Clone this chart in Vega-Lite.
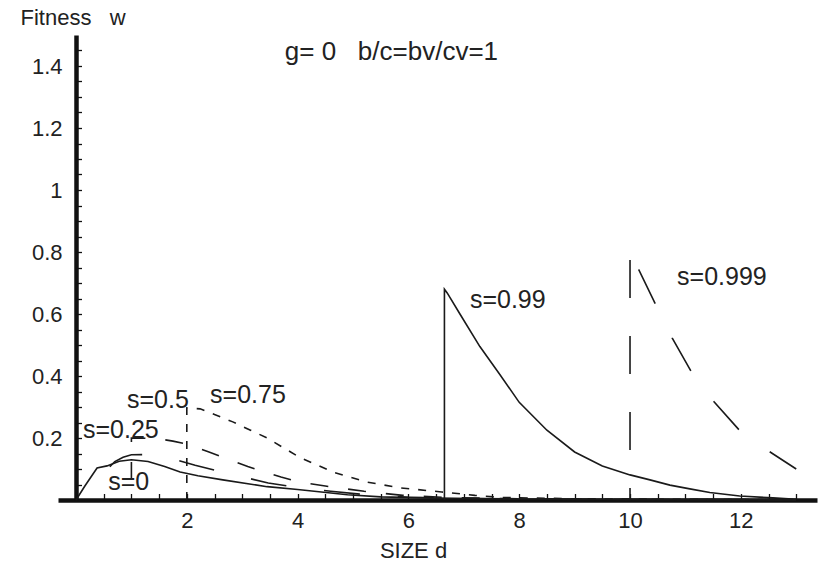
{
  "$schema": "https://vega.github.io/schema/vega-lite/v6.json",
  "width": 759,
  "height": 465,
  "autosize": {"type": "none"},
  "padding": {"left": 58, "top": 35, "right": 6, "bottom": 62},
  "background": "white",
  "config": {"view": {"stroke": null}, "font": "Liberation Sans"},
  "datasets": {
    "curves": [
      {"s": "0", "d": 0, "w": 0}, {"s": "0", "d": 0.16, "w": 0.045}, {"s": "0", "d": 0.38, "w": 0.103}, {"s": "0", "d": 0.56, "w": 0.11}, {"s": "0", "d": 0.78, "w": 0.125}, {"s": "0", "d": 1.0, "w": 0.13}, {"s": "0", "d": 1.3, "w": 0.124}, {"s": "0", "d": 1.6, "w": 0.108}, {"s": "0", "d": 1.88, "w": 0.09}, {"s": "0", "d": 2.2, "w": 0.078}, {"s": "0", "d": 2.65, "w": 0.065}, {"s": "0", "d": 3.45, "w": 0.043}, {"s": "0", "d": 4.0, "w": 0.034}, {"s": "0", "d": 4.9, "w": 0.017}, {"s": "0", "d": 5.5, "w": 0.01}, {"s": "0", "d": 6.5, "w": 0.006}, {"s": "0", "d": 8, "w": 0.003}, {"s": "0", "d": 10, "w": 0.002}, {"s": "0", "d": 13, "w": 0.001},
      {"s": "0.25", "d": 0.415, "w": 0}, {"s": "0.25", "d": 0.415, "w": 0.075}, {"s": "0.25", "d": 0.52, "w": 0.09}, {"s": "0.25", "d": 0.7, "w": 0.124}, {"s": "0.25", "d": 0.85, "w": 0.138}, {"s": "0.25", "d": 1.0, "w": 0.146}, {"s": "0.25", "d": 1.45, "w": 0.147}, {"s": "0.25", "d": 1.8, "w": 0.13}, {"s": "0.25", "d": 2.15, "w": 0.112}, {"s": "0.25", "d": 2.78, "w": 0.084}, {"s": "0.25", "d": 3.47, "w": 0.055}, {"s": "0.25", "d": 4.0, "w": 0.04}, {"s": "0.25", "d": 4.6, "w": 0.028}, {"s": "0.25", "d": 5.3, "w": 0.016}, {"s": "0.25", "d": 6.0, "w": 0.009}, {"s": "0.25", "d": 7.0, "w": 0.005}, {"s": "0.25", "d": 9.0, "w": 0.002}, {"s": "0.25", "d": 13.0, "w": 0.001},
      {"s": "0.5", "d": 1.0, "w": 0}, {"s": "0.5", "d": 1.0, "w": 0.2}, {"s": "0.5", "d": 1.3, "w": 0.199}, {"s": "0.5", "d": 1.5, "w": 0.197}, {"s": "0.5", "d": 1.75, "w": 0.19}, {"s": "0.5", "d": 2.0, "w": 0.18}, {"s": "0.5", "d": 2.4, "w": 0.155}, {"s": "0.5", "d": 2.7, "w": 0.135}, {"s": "0.5", "d": 3.1, "w": 0.108}, {"s": "0.5", "d": 3.4, "w": 0.09}, {"s": "0.5", "d": 3.7, "w": 0.074}, {"s": "0.5", "d": 4.04, "w": 0.058}, {"s": "0.5", "d": 4.5, "w": 0.045}, {"s": "0.5", "d": 5.2, "w": 0.028}, {"s": "0.5", "d": 5.9, "w": 0.015}, {"s": "0.5", "d": 6.6, "w": 0.009}, {"s": "0.5", "d": 7.5, "w": 0.005}, {"s": "0.5", "d": 9.0, "w": 0.002}, {"s": "0.5", "d": 13.0, "w": 0.001},
      {"s": "0.75", "d": 2.0, "w": 0}, {"s": "0.75", "d": 2.0, "w": 0.297}, {"s": "0.75", "d": 2.24, "w": 0.294}, {"s": "0.75", "d": 2.5, "w": 0.276}, {"s": "0.75", "d": 2.83, "w": 0.252}, {"s": "0.75", "d": 3.15, "w": 0.225}, {"s": "0.75", "d": 3.45, "w": 0.2}, {"s": "0.75", "d": 3.75, "w": 0.168}, {"s": "0.75", "d": 4.04, "w": 0.137}, {"s": "0.75", "d": 4.35, "w": 0.113}, {"s": "0.75", "d": 4.64, "w": 0.09}, {"s": "0.75", "d": 5.25, "w": 0.058}, {"s": "0.75", "d": 5.85, "w": 0.039}, {"s": "0.75", "d": 6.6, "w": 0.026}, {"s": "0.75", "d": 7.2, "w": 0.015}, {"s": "0.75", "d": 7.7, "w": 0.008}, {"s": "0.75", "d": 9.0, "w": 0.004}, {"s": "0.75", "d": 11.0, "w": 0.002}, {"s": "0.75", "d": 13.0, "w": 0.001},
      {"s": "0.99", "d": 6.65, "w": 0}, {"s": "0.99", "d": 6.65, "w": 0.68}, {"s": "0.99", "d": 6.7, "w": 0.668}, {"s": "0.99", "d": 6.93, "w": 0.6}, {"s": "0.99", "d": 7.29, "w": 0.495}, {"s": "0.99", "d": 7.65, "w": 0.405}, {"s": "0.99", "d": 8.0, "w": 0.315}, {"s": "0.99", "d": 8.5, "w": 0.225}, {"s": "0.99", "d": 9.0, "w": 0.155}, {"s": "0.99", "d": 9.5, "w": 0.11}, {"s": "0.99", "d": 10.0, "w": 0.081}, {"s": "0.99", "d": 10.36, "w": 0.065}, {"s": "0.99", "d": 10.72, "w": 0.048}, {"s": "0.99", "d": 11.08, "w": 0.036}, {"s": "0.99", "d": 11.44, "w": 0.024}, {"s": "0.99", "d": 11.98, "w": 0.013}, {"s": "0.99", "d": 12.58, "w": 0.007}, {"s": "0.99", "d": 13.0, "w": 0.002},
      {"s": "0.999", "seg": "jump", "d": 10.0, "w": 0}, {"s": "0.999", "seg": "jump", "d": 10.0, "w": 0.775},
      {"s": "0.999", "seg": "curve", "d": 10.0, "w": 0.775}, {"s": "0.999", "seg": "curve", "d": 10.16, "w": 0.742}, {"s": "0.999", "seg": "curve", "d": 10.45, "w": 0.635}, {"s": "0.999", "seg": "curve", "d": 10.76, "w": 0.523}, {"s": "0.999", "seg": "curve", "d": 11.1, "w": 0.416}, {"s": "0.999", "seg": "curve", "d": 11.52, "w": 0.316}, {"s": "0.999", "seg": "curve", "d": 11.97, "w": 0.226}, {"s": "0.999", "seg": "curve", "d": 12.5, "w": 0.158}, {"s": "0.999", "seg": "curve", "d": 13.0, "w": 0.1}
    ],
    "labels": [
      {"label": "s=0", "d": 0.58, "w": 0.032},
      {"label": "s=0.25", "d": 0.126, "w": 0.2},
      {"label": "s=0.5", "d": 0.92, "w": 0.297},
      {"label": "s=0.75", "d": 2.42, "w": 0.313},
      {"label": "s=0.99", "d": 7.11, "w": 0.619},
      {"label": "s=0.999", "d": 10.85, "w": 0.694}
    ],
    "header": [
      {"label": "g=\u00a00\u00a0\u00a0\u00a0b/c=bv/cv=1", "d": 3.77, "w": 1.42}
    ]
  },
  "resolve": {"axis": {"x": "independent", "y": "independent"}},
  "layer": [
    {
      "data": {"name": "curves"},
      "encoding": {
        "x": {"field": "d", "type": "quantitative", "scale": {"domain": [-0.325, 13.375], "nice": false, "zero": false}},
        "y": {"field": "w", "type": "quantitative", "scale": {"domain": [0, 1.5], "nice": false}},
        "order": {"value": null}
      },
      "layer": [
        {
          "transform": [{"filter": "datum.s == '0' || datum.s == '0.99'"}],
          "mark": {"type": "line", "strokeWidth": 1.6, "color": "#1a1a1a"},
          "encoding": {
            "x": {
              "field": "d", "type": "quantitative",
              "axis": {
                "values": [2, 4, 6, 8, 10, 12],
                "ticks": false,
                "labelOverlap": false, "labelFlush": false,
                "domainWidth": 4.5, "domainColor": "#111",
                "labelPadding": 10, "labelFontSize": 22, "labelFont": "Liberation Sans", "labelColor": "#222",
                "grid": false,
                "title": "SIZE d", "titleFontSize": 22, "titleFontWeight": "normal", "titleFont": "Liberation Sans", "titleColor": "#222",
                "titleX": 355, "titleY": 57, "titleAlign": "center", "titleBaseline": "alphabetic"
              }
            },
            "y": {
              "field": "w", "type": "quantitative",
              "axis": {
                "offset": -18,
                "values": [0.2, 0.4, 0.6, 0.8, 1, 1.2, 1.4],
                "format": "~g",
                "ticks": false,
                "labelOverlap": false, "labelFlush": false,
                "domainWidth": 4.5, "domainColor": "#111",
                "labelPadding": 14, "labelFontSize": 22, "labelFont": "Liberation Sans", "labelColor": "#222",
                "grid": false,
                "title": "Fitness\u00a0\u00a0\u00a0w", "titleFontSize": 22, "titleFontWeight": "normal", "titleFont": "Liberation Sans", "titleColor": "#222",
                "titleAngle": 0, "titleX": -56, "titleY": -11, "titleAlign": "left", "titleBaseline": "alphabetic"
              }
            },
            "detail": {"field": "s"}
          }
        },
        {
          "transform": [{"filter": "datum.s == '0.25'"}],
          "mark": {"type": "line", "strokeWidth": 1.6, "color": "#1a1a1a", "strokeDash": [36, 38], "strokeDashOffset": 36}
        },
        {
          "transform": [{"filter": "datum.s == '0.5'"}],
          "mark": {"type": "line", "strokeWidth": 1.6, "color": "#1a1a1a", "strokeDash": [18, 20], "strokeDashOffset": 18}
        },
        {
          "transform": [{"filter": "datum.s == '0.75'"}],
          "mark": {"type": "line", "strokeWidth": 1.6, "color": "#1a1a1a", "strokeDash": [8, 9]}
        },
        {
          "transform": [{"filter": "datum.seg == 'jump'"}],
          "mark": {"type": "line", "strokeWidth": 1.6, "color": "#1a1a1a", "strokeDash": [38, 38], "strokeDashOffset": 26}
        },
        {
          "transform": [{"filter": "datum.seg == 'curve'"}],
          "mark": {"type": "line", "strokeWidth": 1.6, "color": "#1a1a1a", "strokeDash": [38, 38], "strokeDashOffset": 63}
        },
        {
          "data": {"name": "labels"},
          "mark": {"type": "text", "align": "left", "baseline": "alphabetic", "fontSize": 25, "font": "Liberation Sans", "color": "#222"},
          "encoding": {"text": {"field": "label"}}
        },
        {
          "data": {"name": "header"},
          "mark": {"type": "text", "align": "left", "baseline": "alphabetic", "fontSize": 26, "font": "Liberation Sans", "color": "#222"},
          "encoding": {"text": {"field": "label"}}
        }
      ]
    },
    {
      "data": {"name": "labels"},
      "mark": {"type": "text", "opacity": 0},
      "encoding": {
        "x": {
          "field": "d", "type": "quantitative",
          "scale": {"domain": [-0.325, 13.375], "nice": false, "zero": false},
          "axis": {
            "orient": "top", "offset": -465,
            "values": [0.5, 1, 1.5, 2, 2.5, 3, 3.5, 4, 4.5, 5, 5.5, 6, 6.5, 7, 7.5, 8, 8.5, 9, 9.5, 10, 10.5, 11, 11.5, 12, 12.5, 13],
            "labels": false, "domain": false, "grid": false,
            "ticks": true, "tickSize": 6.5, "tickColor": "#111", "tickWidth": 1.3,
            "title": null
          }
        },
        "y": {
          "field": "w", "type": "quantitative",
          "scale": {"domain": [0, 1.5], "nice": false},
          "axis": {
            "orient": "right", "offset": -741,
            "values": [0.05, 0.1, 0.15, 0.2, 0.25, 0.3, 0.35, 0.4, 0.45, 0.5, 0.55, 0.6, 0.65, 0.7, 0.75, 0.8, 0.85, 0.9, 0.95, 1, 1.05, 1.1, 1.15, 1.2, 1.25, 1.3, 1.35, 1.4, 1.45],
            "labels": false, "domain": false, "grid": false,
            "ticks": true, "tickSize": 5.5, "tickColor": "#111", "tickWidth": 1.3,
            "title": null
          }
        },
        "text": {"field": "label"}
      }
    }
  ]
}
